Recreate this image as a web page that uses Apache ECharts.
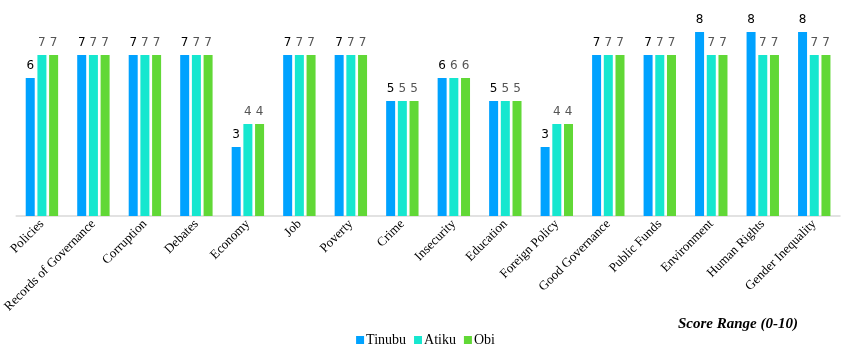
<!DOCTYPE html>
<html>
<head>
<meta charset="utf-8">
<script src="https://cdn.jsdelivr.net/npm/echarts@6/dist/echarts.min.js"></script>
<style>
  html, body { margin: 0; padding: 0; background: #fff; }
  #chart { width: 851px; height: 352px; }
</style>
</head>
<body>
<div id="chart"></div>
<script>
// 类目和分数
const categories = [
  "Policies", "Records of Governance", "Corruption", "Debates", "Economy",
  "Job", "Poverty", "Crime", "Insecurity", "Education", "Foreign Policy",
  "Good Governance", "Public Funds", "Environment", "Human Rights", "Gender Inequality"
];
const tinubu = [6, 7, 7, 7, 3, 7, 7, 5, 6, 5, 3, 7, 7, 8, 8, 8];
const atiku  = [7, 7, 7, 7, 4, 7, 7, 5, 6, 5, 4, 7, 7, 7, 7, 7];
const obi    = [7, 7, 7, 7, 4, 7, 7, 5, 6, 5, 4, 7, 7, 7, 7, 7];

const serif = "Liberation Serif";

function bar(name, data, color, labelColor) {
  return {
    name: name,
    type: "bar",
    data: data,
    barWidth: 9,
    barGap: "30%",
    itemStyle: { color: color },
    label: {
      show: true,
      position: "top",
      distance: 6,
      color: labelColor,
      fontFamily: "DejaVu Sans",
      fontSize: 12,
    },
  };
}

let chart = echarts.init(document.getElementById("chart"));
let config = {
  animation: false,
  grid: { left: 13, right: 11, top: 32, bottom: 136 },
  legend: {
    bottom: 0,
    left: "center",
    icon: "rect",
    itemWidth: 8,
    itemHeight: 8,
    itemGap: 8,
    textStyle: { fontFamily: serif, fontSize: 14, color: "#000", padding: [0, 0, 0, -3] },
  },
  xAxis: {
    type: "category",
    data: categories,
    axisLine: { lineStyle: { color: "#d9d9d9", width: 1.5 } },
    axisTick: { show: false },
    axisLabel: {
      rotate: 45,
      interval: 0,
      margin: 6,
      fontFamily: serif,
      fontSize: 13,
      color: "#000",
    },
  },
  yAxis: { type: "value", min: 0, max: 8, show: false },
  graphic: [
    {
      type: "text",
      left: 678,
      top: 317,
      style: {
        text: "Score Range (0-10)",
        font: "italic bold 15px 'Liberation Serif'",
        fill: "#000",
      },
    },
  ],
  series: [
    bar("Tinubu", tinubu, "#00a2ff", "#000"),
    bar("Atiku", atiku, "#16e7cf", "#555"),
    bar("Obi", obi, "#61d836", "#555"),
  ],
};
chart.setOption(config);
</script>
</body>
</html>
